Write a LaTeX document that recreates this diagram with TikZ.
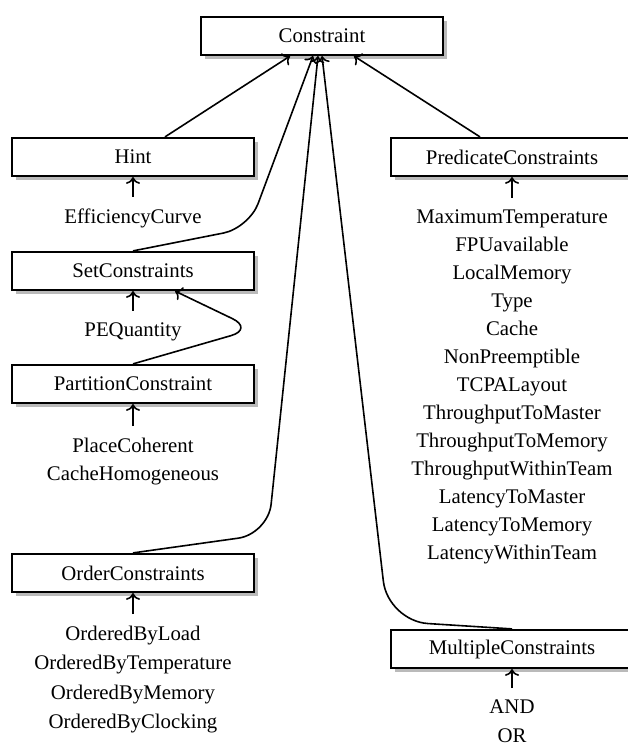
\documentclass[tikz,border=0pt]{standalone}
\usepackage{fontspec}
\setmainfont{Liberation Serif}
\usetikzlibrary{calc,arrows.meta,positioning,shadows}

\begin{document}
\begin{tikzpicture}[x=0.5pt, y=-0.5pt,
    every node/.style={font=\fontsize{10.4}{14}\selectfont},
    classbox/.style={draw, fill=white, line width=1.1pt, minimum width=121pt, minimum height=19pt, inner sep=0pt,
        drop shadow={shadow xshift=2pt, shadow yshift=-2pt, fill=black!45, opacity=.6}},
    members/.style={align=center, inner sep=0pt, outer ysep=6pt, anchor=north},
    edge/.style={->, line width=0.8pt}]

    % Fix the page size
    \useasboundingbox (0,0) rectangle (627,747);

    % Define the x positions of the two columns
    \def\colL{133}
    \def\colR{512}

    % Draw the class boxes
    \node[classbox] (constraint) at (322,36) {Constraint};
    \node[classbox] (hint)       at (\colL,157) {Hint};
    \node[classbox] (setc)       at (\colL,271) {SetConstraints};
    \node[classbox] (partition)  at (\colL,384) {PartitionConstraint};
    \node[classbox] (order)      at (\colL,573) {OrderConstraints};
    \node[classbox] (predicate)  at (\colR,157) {PredicateConstraints};
    \node[classbox] (multiple)   at (\colR,649) {MultipleConstraints};

    % Place the member lists under the boxes
    \node[members] (effic)     at (\colL,197) {EfficiencyCurve};
    \node[members] (pequant)   at (\colL,311) {PEQuantity};
    \node[members] (partlist)  at (\colL,426) {PlaceCoherent\\CacheHomogeneous};
    \node[members, font=\fontsize{10.4}{14.7}\selectfont] (orderlist) at (\colL,614)
        {OrderedByLoad\\OrderedByTemperature\\OrderedByMemory\\OrderedByClocking};
    \node[members] (predlist)  at (\colR,198)
        {MaximumTemperature\\FPUavailable\\LocalMemory\\Type\\Cache\\NonPreemptible\\TCPALayout\\
         ThroughputToMaster\\ThroughputToMemory\\ThroughputWithinTeam\\LatencyToMaster\\LatencyToMemory\\LatencyWithinTeam};
    \node[members, font=\fontsize{10.4}{14.5}\selectfont] (multlist) at (\colR,688) {AND\\OR};

    % Arrows from the member lists to their boxes
    \draw[edge] (effic.north) -- (hint.south);
    \draw[edge] (pequant.north) -- (setc.south);
    \draw[edge] (partlist.north) -- (partition.south);
    \draw[edge] (orderlist.north) -- (order.south);
    \draw[edge] (predlist.north) -- (predicate.south);
    \draw[edge] (multlist.north) -- (multiple.south);

    % Bend points of the long connectors
    \coordinate (bendS) at (249,228);
    \coordinate (bendO) at (268,534);
    \coordinate (bendM) at (388,621);
    \coordinate (bendP) at (254,329);

    % Inheritance arrows up to Constraint
    \draw[edge] ([xshift=16pt]hint.north) -- ([xshift=-16pt]constraint.south);
    \draw[edge] ([xshift=-16pt]predicate.north) -- ([xshift=16pt]constraint.south);
    \draw[edge, rounded corners=13pt] (setc.north) -- (bendS) -- ([xshift=-4.5pt]constraint.south);
    \draw[edge, rounded corners=15pt] (order.north) -- (bendO) -- ([xshift=-2pt]constraint.south);
    \draw[edge, rounded corners=20pt] (multiple.north) -- (bendM) -- (constraint.south);

    % PartitionConstraint loops back to SetConstraints
    \draw[edge, rounded corners=12pt] (partition.north) -- (bendP) -- ([xshift=21pt]setc.south);
\end{tikzpicture}
\end{document}
